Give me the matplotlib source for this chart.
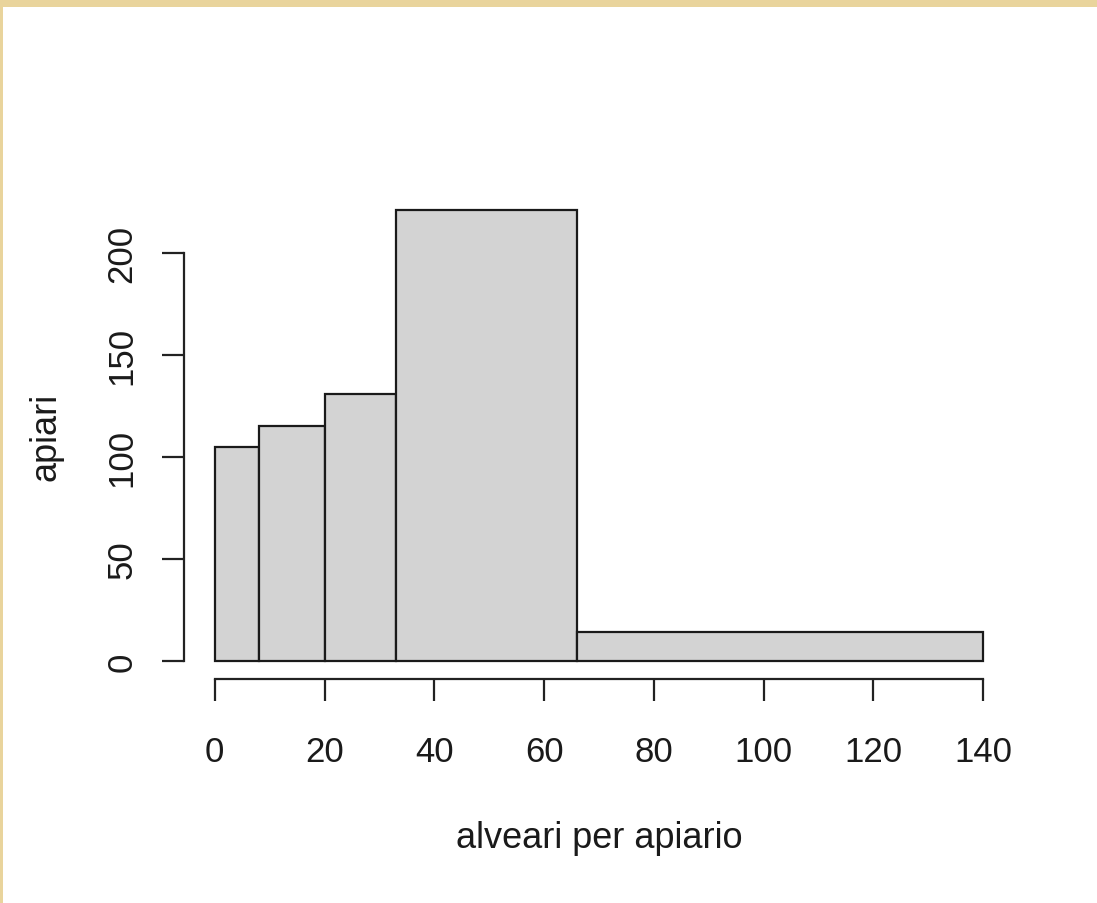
import matplotlib.pyplot as plt
from matplotlib.patches import Rectangle

# histogram breaks and counts (alveari per apiario)
breaks = [0, 8, 20, 33, 66, 140]
counts = [105, 115, 131, 221, 14]
xticks = [0, 20, 40, 60, 80, 100, 120, 140]
yticks = [0, 50, 100, 150, 200]

plt.rcParams['font.family'] = ['Liberation Sans', 'DejaVu Sans']

fig = plt.figure(figsize=(10.97, 9.04), dpi=100)
fig.patch.set_facecolor('white')

# beige textured frame at top and left edge
fig.patches.append(Rectangle((0, 1 - 8 / 904), 1, 8 / 904, transform=fig.transFigure,
                             facecolor='#e9d49c', edgecolor='none', zorder=0))
fig.patches.append(Rectangle((0, 0), 3 / 1097, 1, transform=fig.transFigure,
                             facecolor='#e9d49c', edgecolor='none', zorder=0))

ax = fig.add_axes([184 / 1097, 1 - 680 / 904, 830 / 1097, 487 / 904])

ax.hist(breaks[:-1], bins=breaks, weights=counts, color='#d3d3d3',
        edgecolor='#1a1a1a', linewidth=1.6)

# R style: 4% padding around data
xr = breaks[-1] - breaks[0]
ymax = max(counts)
ax.set_xlim(breaks[0] - 0.04 * xr, breaks[-1] + 0.04 * xr)
ax.set_ylim(-0.04 * ymax, ymax * 1.04)

for s in ['top', 'right']:
    ax.spines[s].set_visible(False)
ax.spines['bottom'].set_bounds(xticks[0], xticks[-1])
ax.spines['left'].set_bounds(yticks[0], yticks[-1])
for s in ['bottom', 'left']:
    ax.spines[s].set_linewidth(1.6)
    ax.spines[s].set_color('#222222')

ax.set_xticks(xticks)
ax.set_yticks(yticks)
ax.set_yticklabels([str(v) for v in yticks], rotation=90, va='center')
ax.tick_params(axis='both', length=16, width=1.6, color='#222222',
               labelsize=25, labelcolor='#1a1a1a')
ax.tick_params(axis='x', pad=24)
ax.tick_params(axis='y', pad=17)

ax.set_xlabel('alveari per apiario', fontsize=26, color='#1a1a1a', labelpad=38)
ax.set_ylabel('apiari', fontsize=26, color='#1a1a1a', labelpad=30)

fig.savefig('out.png', dpi=100, facecolor='white')
